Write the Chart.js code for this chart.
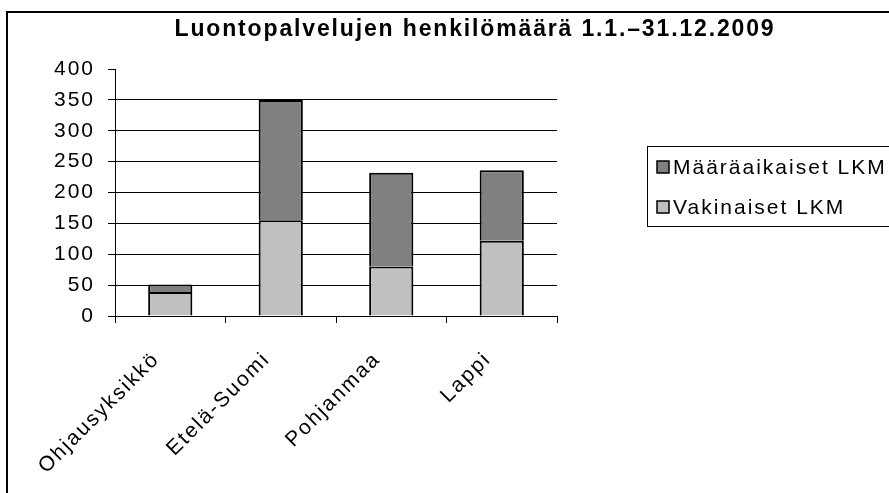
<!DOCTYPE html>
<html>
<head>
<meta charset="utf-8">
<script src="https://cdn.jsdelivr.net/npm/chart.js@4/dist/chart.umd.min.js"></script>
<style>
html,body{margin:0;padding:0;background:#fff;}
#wrap{width:889px;height:493px;position:relative;}
</style>
</head>
<body>
<div id="wrap"><canvas id="c" width="889" height="493"></canvas></div>
<script>
const titleText = 'Luontopalvelujen henkilömäärä 1.1.–31.12.2009';
const categories = ['Ohjausyksikkö', 'Etelä-Suomi', 'Pohjanmaa', 'Lappi'];
const seriesNames = ['Vakinaiset LKM', 'Määräaikaiset LKM'];
const vakinaiset = [39, 155, 80, 122];
const maaraaikaiset = [12, 195, 152, 114];
const yTicks = [0, 50, 100, 150, 200, 250, 300, 350, 400];

const FONT = '"Liberation Sans", Arial, sans-serif';

const decor = {
  id: 'decor',
  beforeDraw(chart) {
    const ctx = chart.ctx;
    ctx.save();
    ctx.fillStyle = '#fff';
    ctx.fillRect(0, 0, chart.width, chart.height);
    ctx.restore();
    ctx.letterSpacing = '2px';
  },
  afterDraw(chart) {
    const ctx = chart.ctx;
    ctx.save();
    ctx.letterSpacing = '0px';
    // outer frame
    ctx.strokeStyle = '#000';
    ctx.lineWidth = 2;
    ctx.strokeRect(7, 12, 900, 500);
    // title
    ctx.letterSpacing = '1.85px';
    ctx.fillStyle = '#000';
    ctx.font = 'bold 23px ' + FONT;
    ctx.textAlign = 'center';
    ctx.textBaseline = 'middle';
    ctx.fillText(titleText, 475, 30);
    // legend box
    ctx.letterSpacing = '0px';
    ctx.lineWidth = 1;
    ctx.strokeRect(647.5, 146.5, 300, 80);
    const ds = chart.data.datasets;
    const order = [1, 0];
    const ys = [167, 207];
    ctx.font = '21px ' + FONT;
    ctx.textAlign = 'left';
    order.forEach((i, k) => {
      const y = ys[k];
      ctx.fillStyle = ds[i].backgroundColor;
      ctx.fillRect(657, y - 6, 12, 12);
      ctx.lineWidth = 1.5;
      ctx.strokeStyle = '#000';
      ctx.strokeRect(657, y - 6, 12, 12);
      ctx.fillStyle = '#000';
      ctx.letterSpacing = '2px';
      ctx.fillText(ds[i].label, 673, y + 1);
      ctx.letterSpacing = '0px';
    });
    ctx.restore();
    ctx.letterSpacing = '0px';
  }
};

new Chart(document.getElementById('c'), {
  type: 'bar',
  data: {
    labels: categories,
    datasets: [
      { label: seriesNames[0], data: vakinaiset, backgroundColor: '#C0C0C0', borderColor: '#000', borderWidth: 2, borderSkipped: 'start' },
      { label: seriesNames[1], data: maaraaikaiset, backgroundColor: '#808080', borderColor: '#000', borderWidth: 2, borderSkipped: 'start' }
    ]
  },
  options: {
    responsive: false,
    animation: false,
    devicePixelRatio: 1,
    layout: { padding: { left: 0, top: 69, right: 332, bottom: 0 } },
    plugins: { legend: { display: false }, title: { display: false }, tooltip: { enabled: false } },
    datasets: { bar: { categoryPercentage: 0.8, barPercentage: 0.5 } },
    scales: {
      x: {
        stacked: true,
        afterFit(s) { s.height = 177; },
        grid: { offset: true, drawOnChartArea: false, drawTicks: true, tickLength: 7, color: '#000', lineWidth: 1 },
        border: { color: '#000', width: 1 },
        ticks: { color: '#000', font: { family: FONT, size: 21 }, minRotation: 45, maxRotation: 45, autoSkip: false, padding: 24, labelOffset: -14 }
      },
      y: {
        stacked: true,
        min: 0, max: 400,
        afterFit(s) { s.width = 115; },
        afterBuildTicks(s) { s.ticks = yTicks.map(v => ({ value: v })); },
        grid: {
          drawTicks: true, tickLength: 7, lineWidth: 1,
          color: (c) => (c.tick && (c.tick.value === 400 || c.tick.value === 0)) ? 'rgba(0,0,0,0)' : '#000',
          tickColor: '#000'
        },
        border: { color: '#000', width: 1 },
        ticks: { color: '#000', font: { family: FONT, size: 21 }, padding: 13 }
      }
    }
  },
  plugins: [decor]
});
</script>
</body>
</html>
